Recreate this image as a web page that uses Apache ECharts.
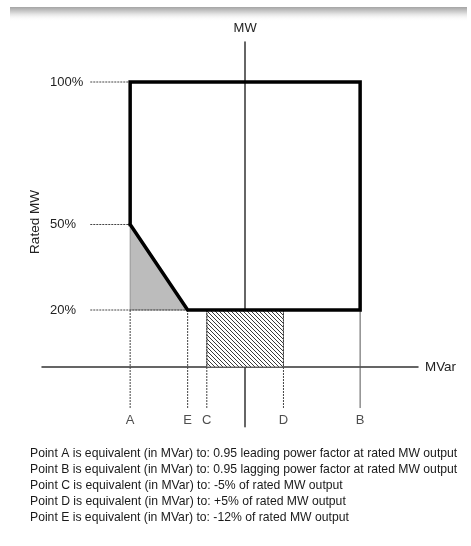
<!DOCTYPE html>
<html>
<head>
<meta charset="utf-8">
<script src="https://cdn.jsdelivr.net/npm/echarts@6/dist/echarts.min.js"></script>
<style>
  html, body { margin: 0; padding: 0; background: #fff; }
  #chart { width: 471px; height: 546px; }
</style>
</head>
<body>
<div id="chart"></div>
<script>
// MW levels shown on the left (percent of rated MW)
const mwTicks = [20, 50, 100];
// reactive points along the MVar axis (schematic positions)
const pointNames = ['A', 'E', 'C', 'D', 'B'];
const pointX = [-3, -1.5, -1, 1, 3];
// capability boundary (thick outline)
const capability = [[-3, 50], [-3, 100], [3, 100], [3, 20], [-1.5, 20], [-3, 50]];
// grey leading region
const leadingArea = [[-3, 50], [-3, 20], [-1.5, 20]];
// hatched deadband between C and D
const deadband = [[-1, 0], [1, 20]];
const notes = [
  'Point A is equivalent (in MVar) to: 0.95 leading power factor at rated MW output',
  'Point B is equivalent (in MVar) to: 0.95 lagging power factor at rated MW output',
  'Point C is equivalent (in MVar) to: -5% of rated MW output',
  'Point D is equivalent (in MVar) to: +5% of rated MW output',
  'Point E is equivalent (in MVar) to: -12% of rated MW output'
];

const FONT = '"Liberation Sans", Arial, Helvetica, sans-serif';
const leaderStart = -4.04;
const guideBottom = -14.4;
const letterY = -18.6;

function hatchPattern() {
  const c = document.createElement('canvas');
  c.width = 4;
  c.height = 4;
  const g = c.getContext('2d');
  g.fillStyle = '#ffffff';
  g.fillRect(0, 0, 4, 4);
  g.strokeStyle = '#3a3a3a';
  g.lineWidth = 1;
  g.beginPath();
  g.moveTo(-1, -1); g.lineTo(5, 5);
  g.moveTo(3, -1); g.lineTo(5, 1);
  g.moveTo(-1, 3); g.lineTo(1, 5);
  g.stroke();
  return c;
}

let myChart = echarts.init(document.getElementById('chart'));

const dashStyle = { color: '#444', width: 1, type: [2, 1] };

// leader lines from the % labels to the boundary
const leaderSeries = mwTicks.map(v => ({
  type: 'line',
  symbol: 'none',
  silent: true,
  z: 3,
  lineStyle: dashStyle,
  data: [[leaderStart, v], [v === 20 ? -1.5 : -3, v]]
}));

// guides from the points down to the letters
const guideSeries = pointX.map((x, i) => ({
  type: 'line',
  symbol: 'none',
  silent: true,
  z: 3,
  lineStyle: pointNames[i] === 'B' ? { color: '#555', width: 1 } : dashStyle,
  data: [[x, 20], [x, guideBottom]]
}));

var option = {
  animation: false,
  textStyle: { fontFamily: FONT },
  grid: {
    left: 42,
    right: 53,
    top: 42.1,
    bottom: 119.15,
    containLabel: false,
    outerBoundsMode: 'none'
  },
  xAxis: [{
    type: 'value',
    min: -5.3,
    max: 4.51,
    axisLine: { show: true, onZero: true, lineStyle: { color: '#333', width: 1.5 } },
    axisTick: { show: false },
    axisLabel: { show: false },
    splitLine: { show: false },
    name: 'MVar',
    nameLocation: 'end',
    nameGap: 7,
    nameTextStyle: { fontSize: 13.4, color: '#222', fontFamily: FONT }
  }],
  yAxis: [{
    type: 'value',
    min: -21,
    max: 114,
    position: 'right',
    axisLine: { show: true, onZero: true, lineStyle: { color: '#333', width: 1.5 } },
    axisTick: { show: false },
    axisLabel: { show: false },
    splitLine: { show: false },
    name: 'MW',
    nameLocation: 'end',
    nameGap: 7,
    nameTextStyle: { fontSize: 13, color: '#222', fontFamily: FONT }
  }, {
    type: 'value',
    min: -21,
    max: 114,
    position: 'left',
    axisLine: { show: false, onZero: false },
    axisTick: { show: false },
    splitLine: { show: false },
    axisLabel: {
      customValues: mwTicks,
      formatter: '{value}%',
      align: 'left',
      margin: -8,
      fontSize: 13,
      color: '#222',
      fontFamily: FONT
    }
  }],
  graphic: [{
    type: 'rect',
    shape: { x: 10, y: 7, width: 457, height: 14 },
    style: {
      fill: new echarts.graphic.LinearGradient(0, 0, 0, 1, [
        { offset: 0, color: '#a4a4a4' },
        { offset: 0.45, color: '#dcdcdc' },
        { offset: 1, color: 'rgba(255,255,255,0)' }
      ])
    },
    silent: true
  }, {
    type: 'text',
    x: 35,
    y: 222,
    rotation: Math.PI / 2,
    style: {
      text: 'Rated MW',
      font: '13.5px ' + FONT,
      fill: '#222',
      align: 'center',
      verticalAlign: 'middle'
    }
  }].concat(notes.map((t, i) => ({
    type: 'text',
    x: 30,
    y: 454 + i * 15.8,
    style: {
      text: t,
      font: '12.2px ' + FONT,
      fill: '#1a1a1a',
      verticalAlign: 'middle'
    }
  }))),
  series: [
    {
      type: 'custom',
      name: 'leading',
      silent: true,
      z: 1,
      data: [leadingArea[0]],
      renderItem: function (params, api) {
        return {
          type: 'polygon',
          shape: { points: leadingArea.map(p => api.coord(p)) },
          style: { fill: '#bcbcbc', stroke: '#888', lineWidth: 0.8 }
        };
      }
    },
    {
      type: 'custom',
      name: 'deadband',
      silent: true,
      z: 1,
      data: [deadband[0]],
      renderItem: function (params, api) {
        const p0 = api.coord(deadband[0]);
        const p1 = api.coord(deadband[1]);
        return {
          type: 'rect',
          shape: { x: p0[0], y: p1[1], width: p1[0] - p0[0], height: p0[1] - p1[1] },
          style: { fill: { image: hatchPattern(), repeat: 'repeat' }, stroke: '#555', lineWidth: 0.8 }
        };
      }
    }
  ].concat(leaderSeries, guideSeries, [
    {
      type: 'line',
      name: 'capability',
      symbol: 'none',
      silent: true,
      z: 5,
      lineStyle: { color: '#000', width: 3.5, join: 'miter', cap: 'square' },
      data: capability
    },
    {
      type: 'scatter',
      name: 'points',
      symbolSize: 1,
      silent: true,
      itemStyle: { color: 'rgba(0,0,0,0)' },
      label: {
        show: true,
        position: 'inside',
        formatter: '{b}',
        fontSize: 13,
        color: '#222',
        fontFamily: FONT
      },
      data: pointX.map((x, i) => ({ name: pointNames[i], value: [x, letterY] }))
    }
  ])
};
myChart.setOption(option);
</script>
</body>
</html>
